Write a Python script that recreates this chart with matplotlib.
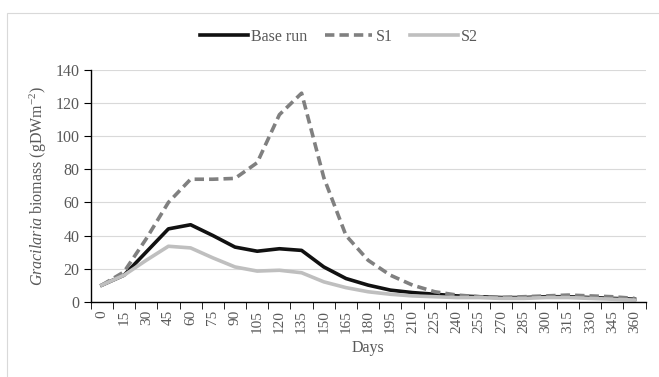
import matplotlib
matplotlib.use("Agg")
import matplotlib.pyplot as plt
import numpy as np
from matplotlib.patches import Rectangle

days = list(range(0, 361, 15))
base_run = [10, 16, 30, 44, 46.5, 40, 33, 30.5, 32, 31, 21, 14, 10, 7, 5.5,
            4.5, 3.5, 3, 2.5, 2.5, 3, 3, 2.5, 2, 1.5]
s1 = [10, 18, 38, 60, 74, 74, 74.5, 84, 113, 126, 75, 40, 25, 16, 10,
      6, 4, 3, 2.5, 3, 3.5, 4, 3.5, 3, 2]
s2 = [10, 16, 25, 33.5, 32.5, 26.5, 21, 18.5, 19, 17.5, 12, 8.5, 6, 4.5, 3.5,
      3, 2.5, 2.5, 2, 2, 2.5, 2.5, 2, 1.5, 1]

TEXT = "#595959"
plt.rcParams["font.family"] = ["Liberation Serif", "DejaVu Serif"]
plt.rcParams["mathtext.fontset"] = "custom"
plt.rcParams["mathtext.rm"] = "Liberation Serif"
plt.rcParams["mathtext.it"] = "Liberation Serif:italic"

fig = plt.figure(figsize=(6.59, 3.77), dpi=100)
# light chart-area border
fig.patches.append(Rectangle((7 / 659, -0.1), 1.2, 1 - 13 / 377 + 0.1,
                             transform=fig.transFigure, fill=False,
                             edgecolor="#d9d9d9", linewidth=0.8))

ax = fig.add_axes([90.7 / 659, 75.3 / 377, 555 / 659, 231.7 / 377])

x = np.arange(len(days))
ax.plot(x, base_run, color="#111111", lw=2.6, label="Base run", solid_joinstyle="round")
ax.plot(x, s1, color="#808080", lw=2.6, ls=(0, (2.6, 1.4)), label="S1")
ax.plot(x, s2, color="#bfbfbf", lw=2.6, label="S2", solid_joinstyle="round")

ax.set_xlim(-0.5, len(days) - 0.5)
ax.set_ylim(0, 140)
ax.set_yticks(range(0, 141, 20))
ax.set_xticks(x)
ax.set_xticklabels([str(d) for d in days], rotation=90)
ax.set_xticks(np.arange(-0.5, len(days)), minor=True)

ax.grid(axis="y", color="#d9d9d9", lw=0.8)
ax.set_axisbelow(True)
for side in ("top", "right"):
    ax.spines[side].set_visible(False)
for side in ("left", "bottom"):
    ax.spines[side].set_color("black")
    ax.spines[side].set_linewidth(1.0)

ax.tick_params(axis="x", which="major", length=0, pad=6, labelsize=11, labelcolor=TEXT)
ax.tick_params(axis="x", which="minor", length=5, direction="out", color="black")
ax.tick_params(axis="y", length=5, direction="out", color="black", labelsize=11.5,
               labelcolor=TEXT, pad=3)

ax.set_xlabel("Days", color=TEXT, fontsize=11.5, labelpad=5)
ax.set_ylabel(r"$\it{Gracilaria}$ biomass (gDWm$^{-2}$)", color=TEXT, fontsize=11.5, labelpad=5)

leg = fig.legend(loc="center", bbox_to_anchor=(339 / 659, 1 - 37 / 377), ncol=3,
                 frameon=False, fontsize=11.5, handlelength=3.0, columnspacing=1.1,
                 handletextpad=0.2)
for t in leg.get_texts():
    t.set_color(TEXT)

fig.savefig("out.png", dpi=100)
